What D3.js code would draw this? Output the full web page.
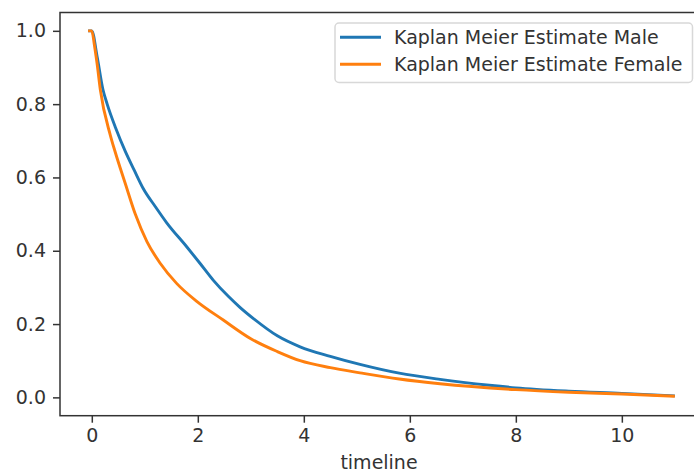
<!DOCTYPE html>
<html>
<head>
<meta charset="utf-8">
<script src="https://cdn.jsdelivr.net/npm/d3@7"></script>
<style>
  html, body { margin: 0; padding: 0; background: #fff; }
  svg { display: block; font-family: "DejaVu Sans", sans-serif; }
</style>
</head>
<body>
<script>
// survival estimates
var maleT = [-0.07, 0, 0.1, 0.21, 0.29, 0.45, 0.63, 0.8, 0.97, 1.2, 1.41, 1.79, 2.04, 2.29, 2.58, 2.8, 3.05, 3.5, 3.93, 4.5, 5.06, 5.8, 6.57, 7.5, 8, 9, 10, 11];
var maleS = [1.0, 1.0, 0.93, 0.84, 0.80, 0.735, 0.672, 0.62, 0.57, 0.52, 0.477, 0.411, 0.366, 0.32, 0.275, 0.245, 0.215, 0.168, 0.138, 0.112, 0.09, 0.066, 0.049, 0.033, 0.026, 0.017, 0.011, 0.004];
var femaleT = [-0.07, 0, 0.05, 0.1, 0.16, 0.35, 0.44, 0.63, 0.82, 1.04, 1.29, 1.6, 1.98, 2.48, 3.0, 3.5, 3.93, 4.5, 5.06, 5.8, 6.57, 8, 9, 10, 11];
var femaleS = [1.0, 1.0, 0.96, 0.91, 0.84, 0.715, 0.67, 0.584, 0.5, 0.425, 0.366, 0.311, 0.262, 0.211, 0.16, 0.125, 0.1, 0.081, 0.067, 0.05, 0.037, 0.021, 0.014, 0.009, 0.003];
var seriesNames = ['Kaplan Meier Estimate Male', 'Kaplan Meier Estimate Female'];
var seriesColors = ['#1f77b4', '#ff7f0e'];
var xTicks = [0, 2, 4, 6, 8, 10];
var yTicks = [0.0, 0.2, 0.4, 0.6, 0.8, 1.0];

var W = 694, H = 472, fs = 19;
var axL = 60, axT = 12.5, axR = 704, axB = 415.7;

var svg = d3.select('body').append('svg').attr('width', W).attr('height', H);

var x = d3.scaleLinear().domain([-0.6, 11.55]).range([axL, axR]);
var y = d3.scaleLinear().domain([-0.05, 1.05]).range([axB, axT]);

/*AXES*/
var gx = svg.append('g').attr('transform', 'translate(0,' + axB + ')')
    .call(d3.axisBottom(x).tickValues(xTicks).tickSize(7).tickPadding(6).tickFormat(d3.format('d')));
var gy = svg.append('g').attr('transform', 'translate(' + axL + ',0)')
    .call(d3.axisLeft(y).tickValues(yTicks).tickSize(7).tickPadding(7).tickFormat(d3.format('.1f')));
[gx, gy].forEach(function(g) {
    g.select('.domain').remove();
    g.selectAll('line').attr('stroke', '#333').attr('stroke-width', 1.5);
    g.selectAll('text').attr('fill', '#333').attr('font-size', fs).attr('font-family', '"DejaVu Sans", sans-serif');
});

/*SPINES*/
svg.append('rect')
    .attr('x', axL).attr('y', axT)
    .attr('width', axR - axL).attr('height', axB - axT)
    .attr('fill', 'none').attr('stroke', '#333').attr('stroke-width', 1.5);

/*CURVES*/
var line = d3.line()
    .x(function(d) { return x(d[0]); })
    .y(function(d) { return y(d[1]); })
    .curve(d3.curveMonotoneX);
var curves = [d3.zip(maleT, maleS), d3.zip(femaleT, femaleS)];
svg.selectAll('path.km')
    .data(curves)
    .enter().append('path')
        .attr('class', 'km')
        .attr('d', line)
        .attr('fill', 'none')
        .attr('stroke', function(d, i) { return seriesColors[i]; })
        .attr('stroke-width', 2.9)
        .attr('stroke-linejoin', 'round');

/*X LABEL*/
svg.append('text')
    .attr('x', (axL + axR) / 2 - 3).attr('y', 469)
    .attr('text-anchor', 'middle')
    .attr('font-size', fs).attr('fill', '#333')
    .text('timeline');

/*LEGEND*/
var leg = svg.append('g');
leg.append('rect')
    .attr('x', 335).attr('y', 23).attr('width', 357.5).attr('height', 59.5)
    .attr('rx', 4).attr('fill', '#fff').attr('fill-opacity', 0.8)
    .attr('stroke', '#d8d8d8').attr('stroke-width', 1.5);
var items = leg.selectAll('g.item')
    .data(seriesNames)
    .enter().append('g')
        .attr('class', 'item')
        .attr('transform', function(d, i) { return 'translate(0,' + (37.3 + i * 27) + ')'; });
items.append('line')
    .attr('x1', 340).attr('x2', 381).attr('y1', 0).attr('y2', 0)
    .attr('stroke', function(d, i) { return seriesColors[i]; })
    .attr('stroke-width', 2.9);
items.append('text')
    .attr('x', 394).attr('y', 0).attr('dy', '0.36em')
    .attr('font-size', fs).attr('fill', '#333')
    .text(function(d) { return d; });
</script>
</body>
</html>
